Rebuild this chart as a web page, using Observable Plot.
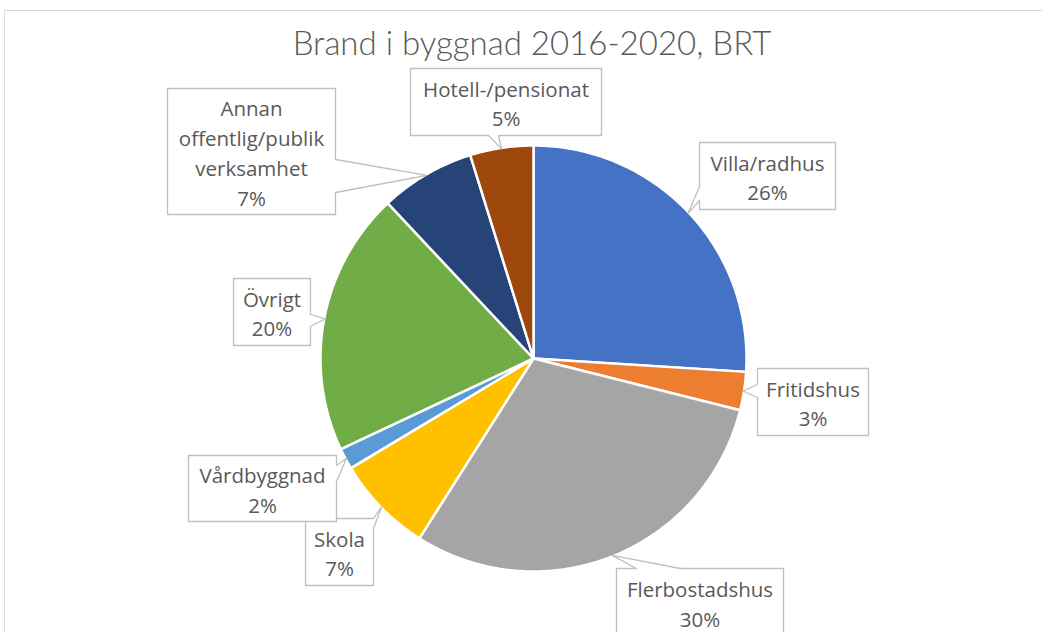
<!DOCTYPE html>
<html><head><meta charset="utf-8">
<script src="https://cdn.jsdelivr.net/npm/d3@7"></script>
<script src="https://cdn.jsdelivr.net/npm/@observablehq/plot@0.6"></script>
<style>
html,body{margin:0;padding:0;background:#fff;overflow:hidden;}
#wrap{position:relative;width:1042px;height:632px;}
#area{position:absolute;left:4px;top:10px;width:1100px;height:700px;border:1px solid #d9d9d9;box-sizing:border-box;}
#title{position:absolute;left:0;width:1064px;top:22px;text-align:center;font-family:Lato,sans-serif;font-weight:300;font-size:33px;color:#595959;line-height:40px;white-space:nowrap;}
#chart{position:absolute;left:0;top:0;}
#chart svg{display:block;}
</style></head><body>
<div id="wrap"><div id="area"></div><div id="chart"></div><div id="title"></div></div>
<script>
// ---- data ----
const title = "Brand i byggnad 2016-2020, BRT";
const categories = ["Villa/radhus","Fritidshus","Flerbostadshus","Skola","Vårdbyggnad","Övrigt","Annan offentlig/publik verksamhet","Hotell-/pensionat"];
const labelLines = [["Villa/radhus"],["Fritidshus"],["Flerbostadshus"],["Skola"],["Vårdbyggnad"],["Övrigt"],["Annan","offentlig/publik","verksamhet"],["Hotell-/pensionat"]];
const shares = [26.0, 2.9, 30.1, 7.4, 1.6, 20.0, 7.2, 4.8];
const colors = ["#4472C4","#ED7D31","#A5A5A5","#FFC000","#5B9BD5","#70AD47","#264478","#9E480E"];

// ---- layout (pixels) ----
const W = 1042, H = 632, CX = 533, CY = 358, R = 213;
const callouts = [
  {box:[699,142,835,209], side:"left",   base:[186,200]},
  {box:[757,368,868,435], side:"left",   base:[384,397]},
  {box:[616,568,783,636], side:"top",    base:[636,680]},
  {box:[305,518,373,585], side:"right",  base:[518,528]},
  {box:[188,455,336,521], side:"right",  base:[465,481]},
  {box:[233,278,310,345], side:"right",  base:[314,326]},
  {box:[167,88,335,214],  side:"right",  base:[159,192]},
  {box:[410,68,601,135],  side:"bottom", base:[488,498]}
];

document.getElementById("title").textContent = title;

const arcs = d3.pie().sort(null).value(d => d)(shares);
const pt = (a, r) => [CX + r * Math.sin(a), CY - r * Math.cos(a)];

// slice outlines
const slicePts = [];
arcs.forEach((a, i) => {
  const name = categories[i];
  slicePts.push({name, p:[CX, CY]});
  const n = Math.max(2, Math.ceil((a.endAngle - a.startAngle) / (Math.PI / 360)));
  for (let k = 0; k <= n; k++) {
    const ang = a.startAngle + (a.endAngle - a.startAngle) * k / n;
    slicePts.push({name, p: pt(ang, R)});
  }
  slicePts.push({name, p:[CX, CY]});
});

// callout outlines
function outline(c, tip) {
  const [x0,y0,x1,y1] = c.box; const [a,b] = c.base;
  const pts = [[x0,y0]];
  if (c.side === "top") pts.push([a,y0], tip, [b,y0]);
  pts.push([x1,y0]);
  if (c.side === "right") pts.push([x1,a], tip, [x1,b]);
  pts.push([x1,y1]);
  if (c.side === "bottom") pts.push([b,y1], tip, [a,y1]);
  pts.push([x0,y1]);
  if (c.side === "left") pts.push([x0,b], tip, [x0,a]);
  pts.push([x0,y0]);
  return pts;
}
const calloutPts = [];
const labels = [];
arcs.forEach((a, i) => {
  const mid = (a.startAngle + a.endAngle) / 2;
  const tip = pt(mid, R - 1);
  const c = callouts[i];
  outline(c, tip).forEach(p => calloutPts.push({name: categories[i], p}));
  labels.push({
    name: categories[i],
    x: (c.box[0] + c.box[2]) / 2,
    y: (c.box[1] + c.box[3]) / 2,
    text: labelLines[i].join("\n") + "\n" + Math.round(shares[i]) + "%"
  });
});

const chart = Plot.plot({
  width: W, height: H,
  margin: 0,
  x: {domain: [0, W], range: [0, W], axis: null},
  y: {domain: [0, H], range: [0, H], axis: null},
  color: {domain: categories, range: colors},
  style: {background: "transparent", overflow: "visible"},
  marks: [
    Plot.line(slicePts, {x: d => d.p[0], y: d => d.p[1], z: "name", fill: "name", stroke: "white", strokeWidth: 2.5, strokeLinejoin: "round", curve: "linear"}),
    Plot.line(calloutPts, {x: d => d.p[0], y: d => d.p[1], z: "name", fill: "white", stroke: "#BFBFBF", strokeWidth: 1.3, curve: "linear"}),
    Plot.text(labels, {x: "x", y: "y", text: "text", lineAnchor: "middle", lineHeight: 1.45, fontSize: 20.5, fontFamily: "Open Sans", fill: "#595959"})
  ]
});
document.getElementById("chart").appendChild(chart);
</script>
</body></html>
